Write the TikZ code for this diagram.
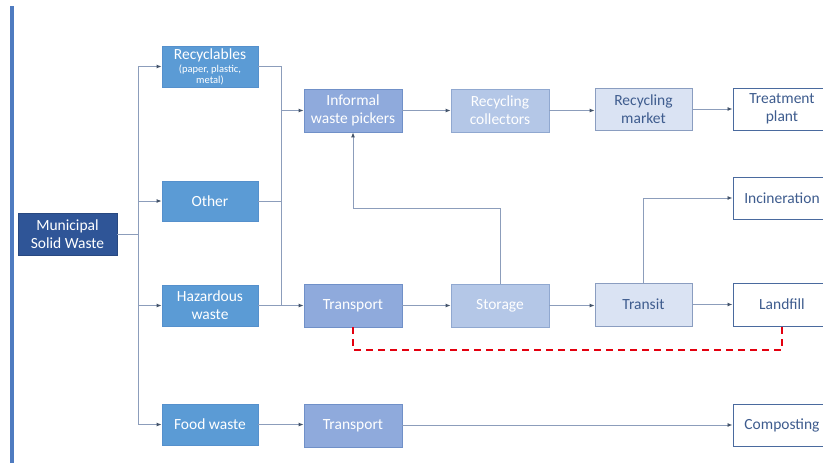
\documentclass[tikz,border=0pt]{standalone}
\usepackage{fontspec}
\setmainfont{Carlito}
\usetikzlibrary{arrows.meta}
\definecolor{cmsw}{HTML}{2F5597}
\definecolor{ccat}{HTML}{5B9BD5}
\definecolor{ccatb}{HTML}{5590CC}
\definecolor{cmid}{HTML}{8FAADC}
\definecolor{cmidb}{HTML}{7090C8}
\definecolor{clt}{HTML}{B4C7E7}
\definecolor{cltb}{HTML}{90A8D0}
\definecolor{cvlt}{HTML}{DAE3F3}
\definecolor{cvltb}{HTML}{8A9DC0}
\definecolor{cwb}{HTML}{4A6A9E}
\definecolor{ctxt}{HTML}{3E5C8E}
\definecolor{cline}{HTML}{8C9DBB}
\definecolor{ctip}{HTML}{44546A}
\definecolor{cbar}{HTML}{4F7BC0}
\definecolor{cred}{HTML}{E3000F}
\tikzset{
  box/.style={rectangle, inner sep=0pt, align=center, font=\fontsize{15.5}{18}\selectfont, line width=0.8pt},
  mswbox/.style={box, fill=cmsw, draw=cmsw!85!black, text=white, minimum width=99pt, minimum height=42pt},
  catbox/.style={box, fill=ccat, draw=ccatb, text=white, minimum width=96pt, minimum height=41pt},
  midbox/.style={box, fill=cmid, draw=cmidb, text=white, minimum width=98pt, minimum height=43pt},
  ltbox/.style={box, fill=clt, draw=cltb, text=white, minimum width=98pt, minimum height=43pt},
  vltbox/.style={box, fill=cvlt, draw=cvltb, text=ctxt, minimum width=97pt, minimum height=43pt},
  endbox/.style={box, fill=white, draw=cwb, text=ctxt, minimum width=98pt, minimum height=42pt, line width=1pt},
  conn/.style={draw=cline, line width=0.9pt},
  arr/.style={conn, -{Latex[length=5pt,width=4pt,color=ctip]}},
  reddash/.style={draw=cred, line width=1.6pt, dash pattern=on 7pt off 5pt}
}
\newcommand{\smalltxt}{\fontsize{10.5}{10}\selectfont}
\begin{document}
\begin{tikzpicture}[x=1pt,y=-1pt]
\useasboundingbox (0,0) rectangle (823,463);
\fill[white] (0,0) rectangle (823,463);
\clip (0,0) rectangle (823,463);
\fill[cbar] (10,6) rectangle (14,463);

\node[mswbox] (msw) at (67.5,234) {Municipal\\Solid Waste};
\node[catbox] (rec) at (210,66.5) {Recyclables\\[-5pt]{\smalltxt (paper, plastic,}\\[-7pt]{\smalltxt metal)}};
\node[catbox, minimum height=40pt] (oth) at (210,201) {Other};
\node[catbox] (haz) at (210,305.5) {Hazardous\\waste};
\node[catbox] (food) at (210,424.5) {Food waste};

\node[midbox] (inf) at (353,110.5) {Informal\\waste pickers};
\node[ltbox] (col) at (500,110.5) {Recycling\\collectors};
\node[vltbox, minimum height=42pt] (mkt) at (643.5,109) {Recycling\\market};
\node[endbox] (trt) at (782,109) {Treatment\\plant};

\node[endbox] (inc) at (782,198) {Incineration};

\node[midbox] (tr) at (353,305.5) {Transport};
\node[ltbox] (sto) at (500,305.5) {Storage};
\node[vltbox] (tsi) at (643.5,304.5) {Transit};
\node[endbox, minimum height=43pt] (lnd) at (782,304.5) {Landfill};

\node[midbox] (tr2) at (353,425.5) {Transport};
\node[endbox] (cmp) at (782,425) {Composting};

\coordinate (trunk) at (138,234);
\coordinate (merge) at (281,305.5);
\coordinate (split) at (281,110.5);
\coordinate (bend) at (500,208);
\coordinate (rd) at (353,350);

\draw[conn] (msw.east) -- (trunk);
\draw[arr] (trunk) |- (rec.west);
\draw[arr] (trunk) |- (oth.west);
\draw[arr] (trunk) |- (haz.west);
\draw[arr] (trunk) |- (food.west);

\draw[conn] (rec.east) -| (merge);
\draw[conn] (oth.east) -| (merge);
\draw[arr] (haz.east) -- (tr.west);
\draw[arr] (split) -- (inf.west);

\draw[arr] (inf) -- (col);
\draw[arr] (col.east) -- (mkt.west |- col.east);
\draw[arr] (mkt) -- (trt);

\draw[arr] (tr) -- (sto);
\draw[arr] (sto.east) -- (tsi.west |- sto.east);
\draw[arr] (tsi) -- (lnd);
\draw[arr] (tsi.north) |- (inc.west);
\draw[arr] (sto.north) -- (bend) -| (inf.south);

\draw[arr] (food) -- (tr2.west |- food.east);
\draw[arr] (tr2.east |- cmp.west) -- (cmp.west);

\draw[reddash] (tr.south) -- (rd) -| (lnd.south);
\end{tikzpicture}
\end{document}
